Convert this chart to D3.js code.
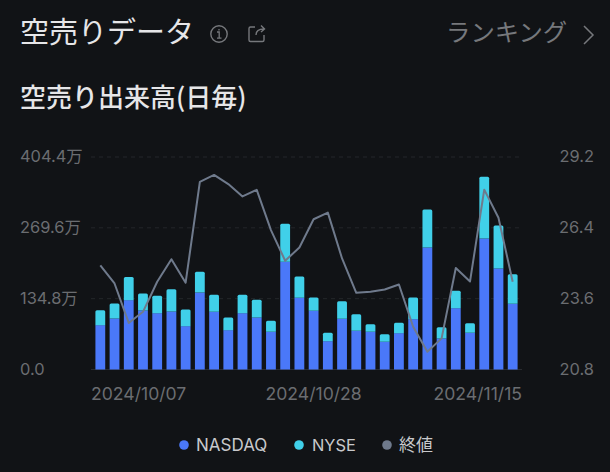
<!DOCTYPE html>
<html><head><meta charset="utf-8">
<script src="https://cdn.jsdelivr.net/npm/d3@7/dist/d3.min.js"></script>
<style>
html,body{margin:0;padding:0;background:#111316;overflow:hidden}
svg{display:block}
text{font-family:Inter,"Noto Sans CJK JP",sans-serif}
.jp{font-family:"Noto Sans CJK JP",sans-serif}
</style></head><body><svg id="c" width="610" height="472"></svg>
<script>
const dates=["2024/10/07","2024/10/08","2024/10/09","2024/10/10","2024/10/11","2024/10/14","2024/10/15","2024/10/16","2024/10/17","2024/10/18","2024/10/21","2024/10/22","2024/10/23","2024/10/24","2024/10/25","2024/10/28","2024/10/29","2024/10/30","2024/10/31","2024/11/01","2024/11/04","2024/11/05","2024/11/06","2024/11/07","2024/11/08","2024/11/11","2024/11/12","2024/11/13","2024/11/14","2024/11/15"];
const nasdaq=[84.4,97.1,132,112.3,107.2,110.4,82.5,146.5,109.8,74.9,107.2,99,71.7,204.9,136.4,111.7,53.9,96.4,73.6,71.7,52.7,69.2,95.8,232.2,59,116.7,69.8,249.3,192.2,125];
const nyse=[28.5,28.5,43.8,32.4,33,42.5,31.7,39.3,32.4,24.1,34.9,33.6,20.9,72.3,40.6,25.4,15.9,33.6,31.7,14.6,14.6,19.7,41.2,72.3,21.6,33,18.4,117.4,81.8,56.5];
const closePrice=[24.92,24.2,22.64,23.08,24.27,25.16,24.23,28.22,28.49,28.13,27.64,27.9,26.31,25.1,25.62,26.74,27.0,25.19,23.83,23.87,23.96,24.16,22.49,21.5,22.03,24.81,24.28,27.91,26.8,24.27];
const leftTicks=[0,134.8,269.6,404.4];
const leftLabels=["0.0","134.8万","269.6万","404.4万"];
const rightTicks=[20.8,23.6,26.4,29.2];
const dateTicks=["2024/10/07","2024/10/28","2024/11/15"];
const legendItems=["NASDAQ","NYSE","終値"];

const svg=d3.select("#c");
const x=d3.scaleBand().domain(dates).range([91,522]).padding(0.31);
const y=d3.scaleLinear().domain([0,404.4]).range([369.5,157]);
const yR=d3.scaleLinear().domain([20.8,29.2]).range([369.5,157]);

// header
const T=(tx,ty,s,size,fill,w,cls)=>svg.append("text").attr("x",tx).attr("y",ty).text(s).attr("font-size",size).attr("fill",fill).attr("font-weight",w||400).attr("class",cls||"jp");
T(20,43,"空売りデータ",29,"#e6e6e8",400);
T(20,107,"空売り出来高(日毎)",26,"#e6e6e8",500);
T(446,41,"ランキング",24.4,"#76787c",400);
svg.append("path").attr("d","M584 26l9 9-9 9").attr("fill","none").attr("stroke","#76787c").attr("stroke-width",1.5);
// info icon
svg.append("circle").attr("cx",219).attr("cy",34).attr("r",8.2).attr("fill","none").attr("stroke","#76787c").attr("stroke-width",1.4);
svg.append("path").attr("d","M217 32h2.2v6M217 38.200h4.500M219 29v1.600").attr("fill","none").attr("stroke","#76787c").attr("stroke-width",1.3);
// share icon
svg.append("path").attr("d","M255 27h-4.500a1.500 1.500 0 0 0-1.500 1.500v11.500a1.500 1.500 0 0 0 1.500 1.500h12a1.500 1.500 0 0 0 1.500-1.500v-5M256 35c0-4 3-6 8-6M261 25.500l3.500 3.500-3.500 3").attr("fill","none").attr("stroke","#76787c").attr("stroke-width",1.4);

// grid
svg.append("g").selectAll("line").data(leftTicks.slice(1)).join("line")
 .attr("x1",91).attr("x2",522).attr("y1",d=>y(d)).attr("y2",d=>y(d))
 .attr("stroke","#24262a").attr("stroke-width",1).attr("stroke-dasharray","4 4");
svg.append("line").attr("x1",91).attr("x2",522).attr("y1",y(0)).attr("y2",y(0)).attr("stroke","#2a2c30");

// axes labels
const axL=svg.append("g").attr("transform","translate(20,0)").call(d3.axisRight(y).tickValues(leftTicks).tickSize(0).tickFormat((d,i)=>leftLabels[i]));
axL.select(".domain").remove();
axL.selectAll("text").attr("x",0).attr("font-size",16.4).attr("fill","#6b6d71").attr("dy","0.3em");
const axR=svg.append("g").attr("transform","translate(594,0)").call(d3.axisLeft(yR).tickValues(rightTicks).tickSize(0).tickFormat(d3.format(".1f")));
axR.select(".domain").remove();
axR.selectAll("text").attr("x",0).attr("font-size",16.4).attr("fill","#6b6d71").attr("dy","0.3em");
const axB=svg.append("g").attr("transform","translate(0,384)").call(d3.axisBottom(x).tickValues(dateTicks).tickSize(0));
axB.select(".domain").remove();
axB.selectAll("text").attr("font-size",17.6).attr("fill","#6b6d71").attr("y",3).attr("dy","0.71em");
axB.selectAll(".tick").attr("transform",d=>d===dates[0]?"translate(91,0)":d===dates[dates.length-1]?"translate(522,0)":`translate(${x(d)+x.bandwidth()/2},0)`);
axB.selectAll("text").attr("text-anchor",d=>d===dates[0]?"start":d===dates[dates.length-1]?"end":"middle");

// bars
const rows=dates.map((d,i)=>({date:d,nasdaq:nasdaq[i],nyse:nyse[i]}));
const stack=d3.stack().keys(["nasdaq","nyse"])(rows);
const colors={nasdaq:"#4a78f9",nyse:"#40d0e9"};
stack.forEach(s=>{
 svg.append("g").selectAll("path").data(s).join("path").attr("fill",colors[s.key]).attr("d",d=>{
  const p=d3.path(),r=s.key==="nyse"?1.5:0,x0=x(d.data.date),w=x.bandwidth(),t=y(d[1]),b=y(d[0]);
  p.moveTo(x0,b);p.lineTo(x0,t+r);
  if(r)p.quadraticCurveTo(x0,t,x0+r,t);
  p.lineTo(x0+w-r,t);
  if(r)p.quadraticCurveTo(x0+w,t,x0+w,t+r);
  p.lineTo(x0+w,b);p.closePath();return p.toString();
 });
});
// line
svg.append("path").datum(closePrice).attr("fill","none").attr("stroke","#6f7a8c").attr("stroke-width",2).attr("stroke-linejoin","round")
 .attr("d",d3.line().x((d,i)=>x(dates[i])+x.bandwidth()/2).y(d=>yR(d)));

// legend
const legColors=[colors.nasdaq,colors.nyse,"#6f7a8c"],legDot=[184,299,387],legText=[196,312,399],legSize=[17,16.4,17];
legendItems.forEach((s,i)=>{
 svg.append("circle").attr("cx",legDot[i]).attr("cy",445).attr("r",4.8).attr("fill",legColors[i]);
 svg.append("text").attr("x",legText[i]).attr("y",451).text(s).attr("font-size",legSize[i]).attr("fill","#c8c9cc").attr("class",i==2?"jp":"");
});
</script></body></html>
